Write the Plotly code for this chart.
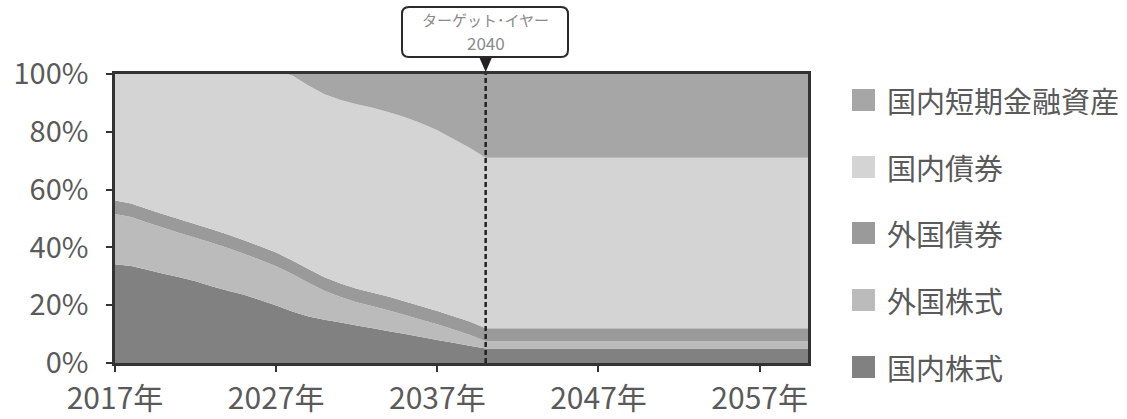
import plotly.graph_objects as go

years = [2017, 2018, 2019, 2020, 2021, 2022, 2023, 2024, 2025, 2026, 2027, 2028,
         2029, 2030, 2031, 2032, 2033, 2034, 2035, 2036, 2037, 2038, 2039, 2040, 2060]

dom_equity = [34.2, 33.6, 32.3, 30.9, 29.7, 28.3, 26.6, 25.0, 23.6, 21.8, 19.9, 17.8,
              16.1, 15.0, 14.0, 13.0, 12.0, 11.0, 10.0, 9.0, 8.0, 7.0, 6.0, 5.0, 5.0]
for_equity = [17.4, 16.9, 16.3, 15.9, 15.3, 15.0, 15.0, 14.8, 14.2, 13.9, 13.6, 13.0,
              11.7, 10.0, 8.8, 8.0, 7.6, 7.2, 6.6, 6.0, 5.4, 4.6, 3.8, 2.5, 2.5]
for_bond = [4.6, 4.7, 4.7, 4.7, 4.7, 4.7, 4.7, 4.7, 4.7, 4.7, 4.7, 4.7,
            4.7, 4.7, 4.7, 4.7, 4.7, 4.7, 4.7, 4.6, 4.6, 4.6, 4.6, 4.5, 4.5]
dom_bond = [43.8, 44.8, 46.7, 48.5, 50.3, 52.0, 53.7, 55.5, 57.5, 59.6, 62.8, 64.0,
            63.5, 63.3, 63.5, 63.8, 64.0, 63.9, 63.7, 63.4, 62.5, 61.3, 60.1, 59.0, 59.0]
dom_short = [0.0, 0.0, 0.0, 0.0, 0.0, 0.0, 0.0, 0.0, 0.0, 0.0, 0.0, 0.5,
             4.0, 7.0, 9.0, 10.5, 11.7, 13.2, 15.0, 17.0, 19.5, 22.5, 25.5, 29.0, 29.0]

names = ["国内株式", "外国株式", "外国債券", "国内債券", "国内短期金融資産"]
series = [dom_equity, for_equity, for_bond, dom_bond, dom_short]
colors = ["#818181", "#bbbbbb", "#9a9a9a", "#d4d4d4", "#a6a6a6"]

tick_years = [2017, 2027, 2037, 2047, 2057]
tick_text = ["2017年", "2027年", "2037年", "2047年", "2057年"]
y_ticks = [0, 20, 40, 60, 80, 100]
y_text = ["0%", "20%", "40%", "60%", "80%", "100%"]
target_year = 2040
callout_line1 = "ターゲット･イヤー"
callout_line2 = "2040"

FONT = "Noto Sans CJK JP"
W, H = 1127, 419
L, R, T, B = 115, 319, 74, 56
X0, X1 = 2017, 2060
pw, ph = W - L - R, H - T - B

def px_x(px):
    return X0 + (px - L) / pw * (X1 - X0)

def px_yp(py):
    return (H - B - py) / ph

fig = go.Figure()
for nm, vals, col in zip(names, series, colors):
    fig.add_trace(go.Scatter(x=years, y=vals, name=nm, stackgroup="one", mode="none",
                             fillcolor=col, hoverinfo="x+y+name"))

shapes = []
# dashed target line
shapes.append(dict(type="line", xref="x", yref="paper", x0=target_year, x1=target_year,
                   y0=0, y1=1.0, line=dict(color="#222222", width=2.5, dash="5px,3px"), layer="above"))
# triangle pointer
tx = 6.5 / pw * (X1 - X0)
shapes.append(dict(type="path", xref="x", yref="paper",
                   path=f"M {target_year - tx},{px_yp(57)} L {target_year + tx},{px_yp(57)} L {target_year},{px_yp(72)} Z",
                   fillcolor="#222222", line=dict(width=0), layer="above"))
# rounded callout box
bx0, bx1 = px_x(402), px_x(568)
by0, by1 = px_yp(57), px_yp(7)
rx = 7 / pw * (X1 - X0)
ry = 7 / ph
path = (f"M {bx0 + rx},{by1} L {bx1 - rx},{by1} Q {bx1},{by1} {bx1},{by1 - ry} "
        f"L {bx1},{by0 + ry} Q {bx1},{by0} {bx1 - rx},{by0} "
        f"L {bx0 + rx},{by0} Q {bx0},{by0} {bx0},{by0 + ry} "
        f"L {bx0},{by1 - ry} Q {bx0},{by1} {bx0 + rx},{by1} Z")
shapes.append(dict(type="path", xref="x", yref="paper", path=path,
                   fillcolor="white", line=dict(color="#2a2a2a", width=2)))

annotations = [
    dict(x=target_year, y=px_yp(19.5), xref="x", yref="paper", text=callout_line1,
         showarrow=False, font=dict(family=FONT, size=15, color="#8a8a8a"),
         xanchor="center", yanchor="middle"),
    dict(x=target_year, y=px_yp(43), xref="x", yref="paper", text=callout_line2,
         showarrow=False, font=dict(family=FONT, size=17, color="#8a8a8a"),
         xanchor="center", yanchor="middle"),
]

# legend (manual, top to bottom)
leg_rows = [100, 167, 233, 300, 367]
for i, (nm, col) in enumerate(zip(reversed(names), reversed(colors))):
    cy = leg_rows[i]
    shapes.append(dict(type="rect", xref="paper", yref="paper",
                       x0=(852 - L) / pw, x1=(875 - L) / pw,
                       y0=px_yp(cy + 11), y1=px_yp(cy - 11),
                       fillcolor=col, line=dict(width=0)))
    annotations.append(dict(x=(885 - L) / pw, y=px_yp(cy), xref="paper", yref="paper",
                            text=nm, showarrow=False, xanchor="left", yanchor="middle",
                            font=dict(family=FONT, size=29, color="#5a5a5a")))

fig.update_layout(
    width=W, height=H,
    margin=dict(l=L, r=R, t=T, b=B, pad=0, autoexpand=False),
    paper_bgcolor="white", plot_bgcolor="white",
    showlegend=False,
    font=dict(family=FONT, color="#555555"),
    shapes=shapes, annotations=annotations,
    xaxis=dict(range=[X0, X1], tickmode="array", tickvals=tick_years, ticktext=tick_text,
               showgrid=False, zeroline=False, showline=True, mirror=True, automargin=False,
               linecolor="#333333", linewidth=2.5, ticks="outside", ticklen=6,
               tickwidth=2, tickcolor="#333333", ticklabelstandoff=1,
               tickfont=dict(family=FONT, size=30, color="#5a5a5a")),
    yaxis=dict(range=[0, 100], tickmode="array", tickvals=y_ticks, ticktext=y_text,
               showgrid=False, zeroline=False, showline=True, mirror=True, automargin=False,
               linecolor="#333333", linewidth=2.5, ticks="outside", ticklen=6,
               tickwidth=2, tickcolor="#333333", ticklabelstandoff=12,
               tickfont=dict(family=FONT, size=29, color="#5a5a5a")),
)

fig.write_html("out.html", config={"displayModeBar": False},
               post_script="document.body.style.margin='0';document.body.style.overflow='hidden';")
